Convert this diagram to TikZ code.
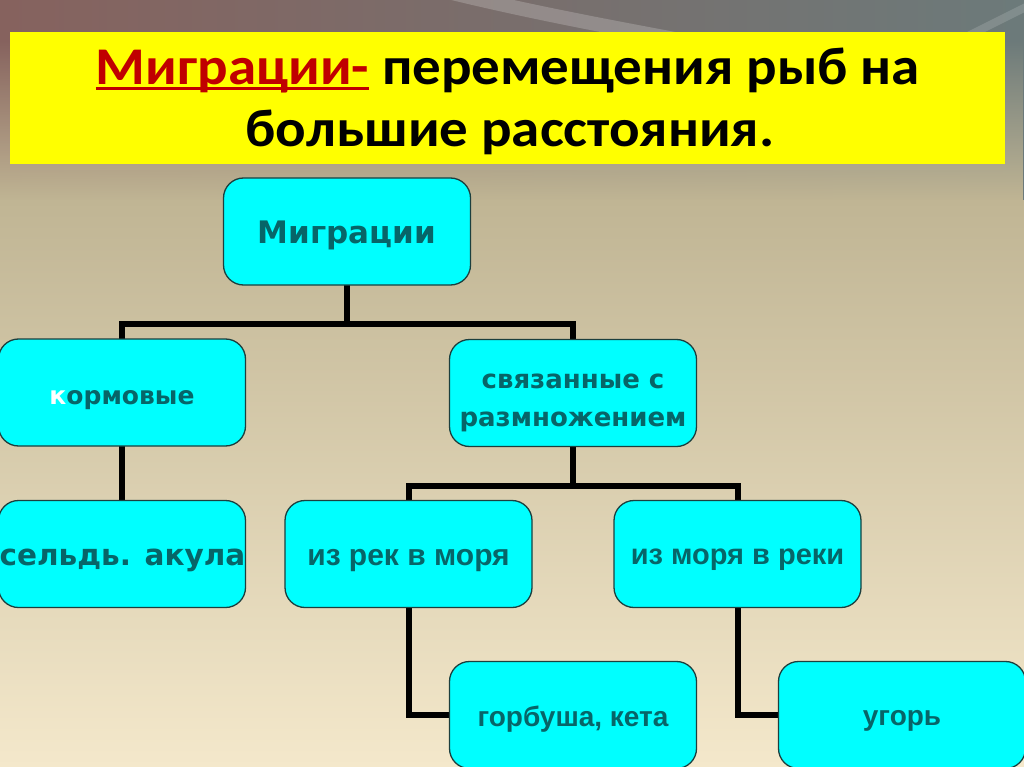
\documentclass[tikz,border=0pt]{standalone}
\usepackage{fontspec}
\setmainfont{Carlito}
\newfontfamily\dvs{DejaVu Sans}
\newfontfamily\lib{Liberation Sans}
\usetikzlibrary{fadings}
\definecolor{bgtopL}{HTML}{86625E}
\definecolor{bgtopR}{HTML}{6C7A7A}
\definecolor{bgmid}{HTML}{C0B594}
\definecolor{bgbot}{HTML}{F4E8CB}
\definecolor{boxfill}{HTML}{00FFFF}
\definecolor{boxline}{HTML}{1C3F3E}
\definecolor{boxtext}{HTML}{076568}
\definecolor{titlered}{HTML}{C00000}
\definecolor{titleyellow}{HTML}{FFFF00}
\newcommand\redul[1]{\setbox0\hbox{#1}\rlap{\rule[-0.09em]{\wd0}{0.06em}}\box0}
\newcommand\dn[2]{\raisebox{-#1}[\height][\depth]{#2}}
\pgfdeclarelayer{bglayer}
\pgfsetlayers{bglayer,main}
\tikzset{
  fishbox/.style={draw=boxline, line width=1.3pt, fill=boxfill, rounded corners=20pt,
    minimum width=247pt, minimum height=107pt, inner sep=0pt, text=boxtext},
  fa/.style={font=\dvs\bfseries\fontsize{#1}{#1}\selectfont},
  fb/.style={font=\lib\bfseries\fontsize{#1}{#1}\selectfont},
  conn/.style={line width=6pt, black, line cap=rect, line join=miter},
  titlefont/.style={font=\bfseries\fontsize{53}{62}\selectfont, anchor=base, inner sep=0pt}
}
\begin{document}
\begin{tikzpicture}[x=1pt, y=-1pt]
\useasboundingbox (0,0) rectangle (1024,767);
% nodes
\node[fishbox, fa=31] (m) at (347,231.5) {\dn{4pt}{Миграции}};
\node[fishbox, fa=25] (k) at (122,392.5) {\dn{8pt}{{\color{white}к}ормовые}};
\node[fishbox, font=\dvs\bfseries\fontsize{26}{38}\selectfont] (s) at (573,393) {\dn{7pt}{\begin{tabular}{@{}c@{}}связанные с\\размножением\end{tabular}}};
\node[fishbox, fa=29.5] (sa) at (122,554) {\dn{6pt}{\hspace*{1pt}сельдь. акула}};
\node[fishbox, fb=30] (r) at (408.5,554) {\dn{7pt}{из рек в моря}};
\node[fishbox, fb=29] (mr) at (737.5,554) {\dn{6pt}{из моря в реки}};
\node[fishbox, fb=28] (g) at (573,715) {\dn{4pt}{горбуша, кета}};
\node[fishbox, fb=28] (u) at (902,715) {\dn{6pt}{угорь}};
% title
\node[draw=none, fill=titleyellow, minimum width=995pt, minimum height=132pt, inner sep=0pt] (tb) at (507.5,98) {};
\node[titlefont] (t1) at (508,85) {\scalebox{1.075}[1]{\color{titlered}\redul{Миграции-}\color{black}{} перемещения рыб на}};
\node[titlefont] (t2) at (510,147) {\scalebox{1.075}[1]{большие расстояния.}};
\begin{pgfonlayer}{bglayer}
  \fill[bgbot] (0,0) rectangle (1024,767);
  \shade[top color=bgmid, bottom color=bgbot] (0,200) rectangle (1024,767);
  \shade[left color=bgtopL, right color=bgtopR] (0,0) rectangle (1024,200);
  \fill[bgmid, path fading=north] (0,40) rectangle (1024,200);
  \draw[white, opacity=0.2, line width=14pt] (440,-10) .. controls (520,10) and (600,25) .. (680,40);
  \draw[white, opacity=0.15, line width=8pt] (1030,5) .. controls (1000,20) and (980,30) .. (960,40);
  % connectors
  \draw[conn] (m.south) -- ++(0,38) -| (k.north);
  \draw[conn] (m.south) -- ++(0,38) -| (s.north);
  \draw[conn] (k.south) -- (sa.north);
  \draw[conn] (s.south) -- ++(0,39) -| (r.north);
  \draw[conn] (s.south) -- ++(0,39) -| (mr.north);
  \draw[conn] (r.south) |- (g.west);
  \draw[conn] (mr.south) |- (u.west);
\end{pgfonlayer}
\end{tikzpicture}
\end{document}
